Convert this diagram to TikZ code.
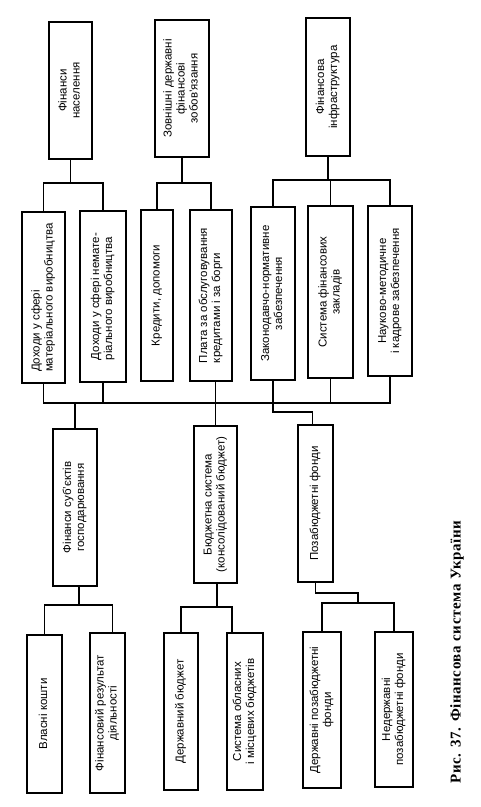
\documentclass[tikz,border=0pt]{standalone}
\usepackage{fontspec}
\setmainfont{Liberation Sans}
\newfontfamily\capfont[LetterSpace=4]{Liberation Serif}
\newcommand\vtext[2][c]{\rotatebox{90}{\begin{tabular}{@{}#1@{}}#2\end{tabular}}}
\begin{document}
\begin{tikzpicture}[x=1pt,y=-1pt,
  box/.style={draw,line width=1.3pt,inner sep=0pt,font=\fontsize{11.5}{13}\selectfont},
  link/.style={line width=1.2pt}]
\useasboundingbox (0,0) rectangle (480,807);
% top row
\node[box,minimum width=43,minimum height=137] (A) at (70.5,90.5) {\vtext{Фінанси\\населення}};
\node[box,minimum width=54,minimum height=137] (B) at (182,88.5) {\vtext{Зовнішні державні\\фінансові\\зобов'язання}};
\node[box,minimum width=44,minimum height=138] (C) at (328,87) {\vtext{Фінансова\\інфраструктура}};
% second row
\node[box,minimum width=43,minimum height=171] (D1) at (43.5,297.5) {\vtext[l]{Доходи у сфері\\матеріального виробництва}};
\node[box,minimum width=46,minimum height=171] (D2) at (103,296.5) {\vtext[l]{Доходи у сфері немате-\\ріального виробництва}};
\node[box,minimum width=32,minimum height=171] (D3) at (157,295.5) {\vtext{Кредити, допомоги}};
\node[box,minimum width=42,minimum height=171] (D4) at (211,295.5) {\vtext[l]{Плата за обслуговування\\кредитами і за борги}};
\node[box,minimum width=44,minimum height=173] (D5) at (273,293.5) {\vtext{Законодавчо-нормативне\\забезпечення}};
\node[box,minimum width=45,minimum height=172] (D6) at (330.5,292) {\vtext{Система фінансових\\закладів}};
\node[box,minimum width=44,minimum height=170] (D7) at (390,291) {\vtext{Науково-методичне\\і кадрове забезпечення}};
% third row
\node[box,minimum width=44,minimum height=157] (E) at (75,507.5) {\vtext{Фінанси суб'єктів\\господарювання}};
\node[box,minimum width=43,minimum height=157] (F) at (215.5,504.5) {\vtext{Бюджетна система\\(консолідований бюджет)}};
\node[box,minimum width=35,minimum height=157] (G) at (315.5,503.5) {\vtext{Позабюджетні фонди}};
% fourth row
\node[box,minimum width=35,minimum height=158] (H1) at (44.5,714) {\vtext{Власні кошти}};
\node[box,minimum width=35,minimum height=160] (H2) at (107.5,713) {\vtext{Фінансовий результат\\діяльності}};
\node[box,minimum width=34,minimum height=157] (H3) at (181,711.5) {\vtext{Державний бюджет}};
\node[box,minimum width=36,minimum height=157] (H4) at (245,711.5) {\vtext{Система обласних\\і місцевих бюджетів}};
\node[box,minimum width=38,minimum height=156] (H5) at (322,710) {\vtext{Державні позабюджетні\\фонди}};
\node[box,minimum width=38,minimum height=155] (H6) at (394,709.5) {\vtext{Недержавні\\позабюджетні фонди}};
% caption
\node[inner sep=0pt,rotate=90,font=\capfont\bfseries\fontsize{15}{17}\selectfont] (cap) at (457,652) {Рис. 37. Фінансова система України};
% helper coordinates
\coordinate (ya) at (0,183);
\coordinate (yc) at (0,180);
\coordinate (bus) at (0,403);
\coordinate (jog) at (0,412);
\coordinate (yb1) at (0,605);
\coordinate (yb2) at (0,607);
\coordinate (g1) at (358,593);
\coordinate (yb3) at (0,603);
% top connectors
\draw[link] (A.south) -- (A.south |- ya);
\draw[link] (D1.north) |- (D2.north |- ya) -- (D2.north);
\draw[link] (B.south) -- (B.south |- ya);
\draw[link] (D3.north) |- (D4.north |- ya) -- (D4.north);
\draw[link] (C.south) -- (C.south |- yc);
\draw[link] (D5.north) |- (D7.north |- yc) -- (D7.north);
\draw[link] (D6.north) -- (D6.north |- yc);
% bus
\draw[link] (D1.south) |- (D7.south |- bus) -- (D7.south);
\draw[link] (D2.south) -- (D2.south |- bus);
\draw[link] (D6.south) -- (D6.south |- bus);
\draw[link] (F.north) -- (F.north |- D4.south);
\draw[link] (E.north) -- (E.north |- bus);
\draw[link] (D5.south) |- ([xshift=-3pt]G.north |- jog) -- ([xshift=-3pt]G.north);
% bottom connectors
\draw[link] ([xshift=4pt]E.south) -- ([xshift=4pt]E.south |- yb1);
\draw[link] (H1.north) |- ([xshift=5pt]H2.north |- yb1) -- ([xshift=5pt]H2.north);
\draw[link] ([xshift=1.5pt]F.south) -- ([xshift=1.5pt]F.south |- yb2);
\draw[link] (H3.north) |- ([xshift=-13pt]H4.north |- yb2) -- ([xshift=-13pt]H4.north);
\draw[link] (G.south) |- (g1) -- (g1 |- yb3);
\draw[link] (H5.north) |- (H6.north |- yb3) -- (H6.north);
\end{tikzpicture}
\end{document}
